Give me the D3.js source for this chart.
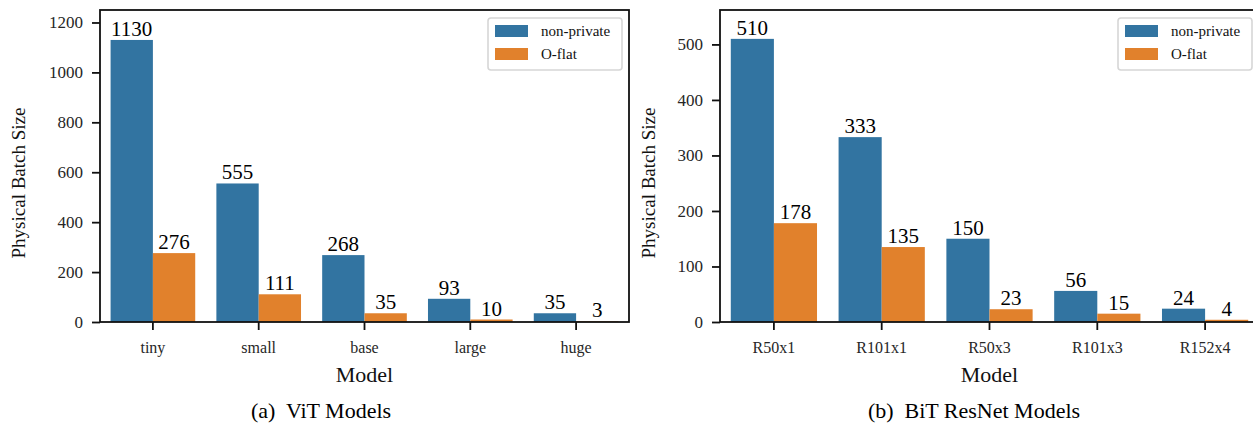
<!DOCTYPE html>
<html>
<head>
<meta charset="utf-8">
<script src="https://cdnjs.cloudflare.com/ajax/libs/d3/7.8.5/d3.min.js"></script>
<style>
  body { margin: 0; background: #fff; }
  text { font-family: "Liberation Serif", "Times New Roman", serif; }
</style>
</head>
<body>
<div id="chart-area"></div>
<script>
// data
var seriesNames = ["non-private", "O-flat"];
var seriesColors = ["#3274a1", "#e1812c"];

var vitModels = ["tiny", "small", "base", "large", "huge"];
var vitNonPrivate = [1130, 555, 268, 93, 35];
var vitOFlat = [276, 111, 35, 10, 3];
var vitTicks = [0, 200, 400, 600, 800, 1000, 1200];

var bitModels = ["R50x1", "R101x1", "R50x3", "R101x3", "R152x4"];
var bitNonPrivate = [510, 333, 150, 56, 24];
var bitOFlat = [178, 135, 23, 15, 4];
var bitTicks = [0, 100, 200, 300, 400, 500];

var svg = d3.select("#chart-area")
    .append("svg")
    .attr("width", 1253)
    .attr("height", 423);

function drawPanel(p) {
    var g = svg.append("g");
    var height = p.bottom - p.top;

    var x = d3.scaleBand().domain(p.models).range([p.left, p.right]).padding(0);
    var xs = d3.scaleBand().domain(seriesNames)
        .range([x.bandwidth() * 0.1, x.bandwidth() * 0.9]);
    var y = d3.scaleLinear().domain([0, p.yMax]).range([p.bottom, p.top]);

    var rows = [];
    p.models.forEach(function (m, i) {
        rows.push({ model: m, s: 0, v: p.values[0][i] });
        rows.push({ model: m, s: 1, v: p.values[1][i] });
    });

    g.selectAll("rect.bar").data(rows).enter().append("rect")
        .attr("class", "bar")
        .attr("x", d => x(d.model) + xs(seriesNames[d.s]))
        .attr("y", d => y(d.v))
        .attr("width", xs.bandwidth())
        .attr("height", d => p.bottom - y(d.v))
        .attr("fill", d => seriesColors[d.s]);

    g.selectAll("text.val").data(rows).enter().append("text")
        .attr("class", "val")
        .attr("x", d => x(d.model) + xs(seriesNames[d.s]) + xs.bandwidth() / 2)
        .attr("y", d => y(d.v) - 4)
        .attr("text-anchor", "middle")
        .attr("font-size", 21)
        .attr("fill", "#000")
        .text(d => d.v);

    var yAxis = g.append("g")
        .attr("transform", "translate(" + p.left + ",0)")
        .call(d3.axisLeft(y).tickValues(p.ticks).tickFormat(d3.format("d"))
            .tickSize(8).tickPadding(9));
    var xAxis = g.append("g")
        .attr("transform", "translate(0," + p.bottom + ")")
        .call(d3.axisBottom(x).tickSize(8).tickPadding(12));

    yAxis.attr("font-size", 17);
    xAxis.attr("font-size", 16);
    [yAxis, xAxis].forEach(function (a) {
        a.attr("font-family", "Liberation Serif");
        a.select(".domain").remove();
        a.selectAll("line").attr("stroke", "#111").attr("stroke-width", 1.8);
        a.selectAll("text").attr("fill", "#262626");
    });

    // frame
    g.append("rect")
        .attr("x", p.left).attr("y", p.top)
        .attr("width", p.right - p.left).attr("height", height)
        .attr("fill", "none").attr("stroke", "#111").attr("stroke-width", 1.8);

    g.append("text")
        .attr("transform", "translate(" + p.yLabelX + "," + (p.top + height / 2 + 17) + ") rotate(-90)")
        .attr("text-anchor", "middle")
        .attr("font-size", 19)
        .attr("fill", "#111")
        .text("Physical Batch Size");

    g.append("text")
        .attr("x", (p.left + p.right) / 2).attr("y", 382)
        .attr("text-anchor", "middle")
        .attr("font-size", 22)
        .attr("fill", "#111")
        .text("Model");

    g.append("text")
        .attr("x", p.captionX).attr("y", 418)
        .attr("text-anchor", "middle")
        .attr("font-size", 22)
        .attr("fill", "#000")
        .attr("xml:space", "preserve")
        .text(p.caption);

    // legend
    var lx = p.right - 141, ly = 18;
    var leg = g.append("g");
    leg.append("rect")
        .attr("x", lx).attr("y", ly).attr("width", 134).attr("height", 52)
        .attr("rx", 3)
        .attr("fill", "#fff").attr("stroke", "#d6d6d6").attr("stroke-width", 1.6);
    seriesNames.forEach(function (s, i) {
        var cy = ly + 13 + i * 23;
        leg.append("rect")
            .attr("x", lx + 7).attr("y", cy - 6)
            .attr("width", 33).attr("height", 12)
            .attr("fill", seriesColors[i]);
        leg.append("text")
            .attr("x", lx + 53).attr("y", cy + 5)
            .attr("font-size", 15)
            .attr("fill", "#111")
            .text(s);
    });
}

drawPanel({
    models: vitModels, values: [vitNonPrivate, vitOFlat], ticks: vitTicks,
    yMax: 1250, left: 100, right: 629, top: 10, bottom: 322,
    yLabelX: 25, caption: "(a)  ViT Models", captionX: 321
});

drawPanel({
    models: bitModels, values: [bitNonPrivate, bitOFlat], ticks: bitTicks,
    yMax: 562, left: 720, right: 1259, top: 10, bottom: 322,
    yLabelX: 655, caption: "(b)  BiT ResNet Models", captionX: 974
});
</script>
</body>
</html>
